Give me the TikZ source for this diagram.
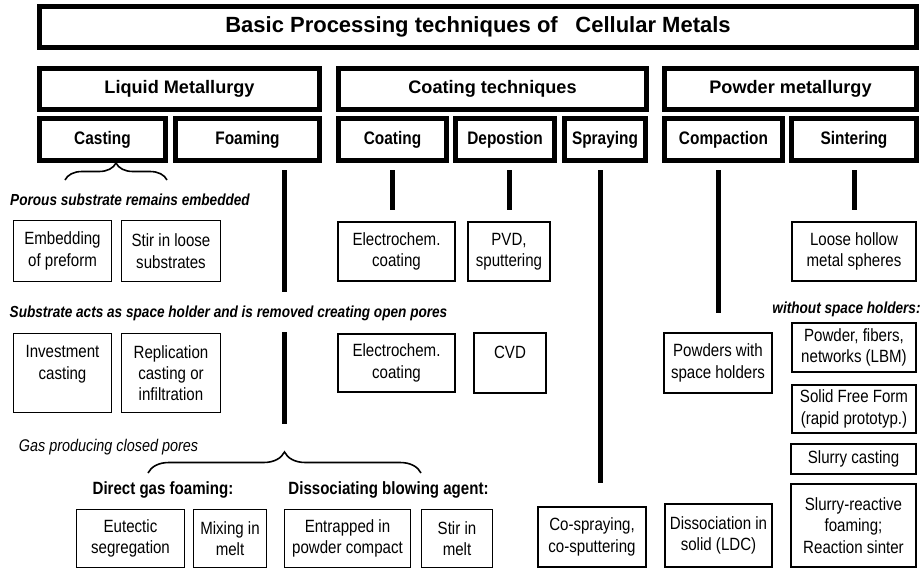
\documentclass[tikz,border=0pt]{standalone}
\usepackage{fontspec}
\setmainfont{Liberation Sans}
\newfontfamily\narrowfont{Liberation Sans}[FakeStretch=0.85]
\usetikzlibrary{positioning,calc,decorations.pathreplacing}
\tikzset{
  sz/.style 2 args={minimum width=#1*0.75pt, minimum height=#2*0.75pt},
  heavybox/.style={draw, line width=3.75pt, inner sep=0pt, align=center},
  midbox/.style={draw, line width=1.5pt, inner sep=0pt, align=center, font=\narrowfont\fontsize{13.3}{16}\selectfont},
  thinbox/.style={draw, line width=1pt, inner sep=0pt, align=center, font=\narrowfont\fontsize{13.3}{16}\selectfont},
  headA/.style={heavybox, font=\bfseries\fontsize{13.6}{16}\selectfont},
  headB/.style={heavybox, font=\narrowfont\bfseries\fontsize{13.6}{16}\selectfont},
  notetext/.style={inner sep=0pt, font=\narrowfont\bfseries\itshape\fontsize{12}{14}\selectfont},
  subhead/.style={inner sep=0pt, font=\narrowfont\bfseries\fontsize{13.3}{16}\selectfont},
  stemline/.style={line width=3.75pt},
  curly/.style={decorate, decoration={brace, amplitude=#1}, line width=1.2pt},
}
\begin{document}
\begin{tikzpicture}[x=0.75pt,y=0.75pt,yscale=-1,xscale=1]
\useasboundingbox (0,0) rectangle (922,572);

% Title
\node[heavybox, sz={877}{41}, font=\bfseries\fontsize{16.5}{20}\selectfont] (title) at (478,27) {Basic Processing techniques of\hspace{0.8em}Cellular Metals};

% Main groups
\node[headA, sz={280}{41}] (liquid) at (179.5,89) {Liquid Metallurgy};
\node[headA, sz={308}{41}] (coattech) at (492.5,89) {Coating techniques};
\node[headA, sz={252}{41}] (powder) at (790.5,89) {Powder metallurgy};

% Sub groups
\node[headB, sz={126}{42}] (cast) at (102.5,139.5) {Casting};
\node[headB, sz={144}{42}] (foam) at (247.5,139.5) {Foaming};
\node[headB, sz={108}{42}] (coat) at (392.5,139.5) {Coating};
\node[headB, sz={99}{42}] (depo) at (505,139.5) {Depostion};
\node[headB, sz={81}{42}] (spray) at (605,139.5) {Spraying};
\node[headB, sz={118}{42}] (compact) at (723.5,139.5) {Compaction};
\node[headB, sz={125}{42}] (sinter) at (854,139.5) {Sintering};

% Text Node
\node[notetext] (porous) at (130,200) {Porous substrate remains embedded};
\node[notetext] (subst) at (228.5,313) {Substrate acts as space holder and is removed creating open pores};
\node[notetext] (without) at (846.5,309) {without space holders:};
\node[notetext, font=\narrowfont\itshape\fontsize{12.7}{14}\selectfont] (gas) at (108.5,447) {Gas producing closed pores};
\node[subhead] (direct) at (163,490) {Direct gas foaming:};
\node[subhead] (dissoc) at (388.5,490) {Dissociating blowing agent:};

% Liquid metallurgy boxes
\node[thinbox, sz={98}{61}] (embed) at (62.5,251) {Embedding\\of preform};
\node[thinbox, sz={99}{61}] (stirloose) at (171,251) {Stir in loose\\substrates};
\node[thinbox, sz={98}{79}] (invest) at (62.5,373) {Investment\\casting\\\mbox{}};
\node[thinbox, sz={99}{79}] (replic) at (171,373) {Replication\\casting or\\infiltration};
\node[thinbox, sz={108}{58}] (eutectic) at (130.5,538.5) {Eutectic\\segregation};
\node[thinbox, sz={73}{58}] (mixing) at (230,538.5) {Mixing in\\melt};
\node[thinbox, sz={126}{58}] (entrap) at (347.5,538.5) {Entrapped in\\powder compact};
\node[thinbox, sz={71}{58}] (stirmelt) at (457,538.5) {Stir in\\melt};

% Coating boxes
\node[midbox, sz={117}{59}] (ec1) at (396.5,251.5) {Electrochem.\\coating};
\node[midbox, sz={117}{58}] (ec2) at (396.5,363) {Electrochem.\\coating};
\node[midbox, sz={82}{59}] (pvd) at (509,251.5) {PVD,\\sputtering};
\node[midbox, sz={72}{60}] (cvd) at (510,363) {CVD\\\mbox{}};
\node[midbox, sz={108}{60}] (cospray) at (592,537) {Co-spraying,\\co-sputtering};

% Powder boxes
\node[midbox, sz={108}{60}] (pws) at (718,363) {Powders with\\space holders};
\node[midbox, sz={107}{63}] (dissol) at (718.5,535.5) {Dissociation in\\solid (LDC)};
\node[midbox, sz={124}{59}] (loose) at (854,251.5) {Loose hollow\\metal spheres};
\node[midbox, sz={124}{49}] (pfib) at (854,347.5) {Powder, fibers,\\networks (LBM)};
\node[midbox, sz={124}{48}] (sff) at (854,409) {Solid Free Form\\(rapid prototyp.)};
\node[midbox, sz={125}{30}] (slcast) at (853.5,459) {Slurry casting};
\node[midbox, sz={125}{83}] (slreact) at (853.5,525.5) {Slurry-reactive\\foaming;\\Reaction sinter};

% Straight Lines
\coordinate (foamx) at (284,452);
\draw[stemline] ($(foam.south -| foamx)+(0,7)$) -- ($(subst.center -| foamx)-(0,21)$);
\draw[stemline] ($(subst.center -| foamx)+(0,19)$) -- ($(foamx)-(0,28)$);
\draw[stemline] ($(coat.south)+(0,7)$) -- ($(coat.south |- ec1.north)-(0,11)$);
\draw[stemline] ($(depo.south -| pvd.north)+(0,7)$) -- ($(pvd.north)-(0,11)$);
\draw[stemline] ($(spray.south)+(-5,7)$) -- ($(spray.south |- cospray.north)+(-5,-23)$);
\draw[stemline] ($(compact.south -| pws.north)+(0,7)$) -- ($(pws.north)-(0,19)$);
\draw[stemline] ($(sinter.south)+(0,7)$) -- ($(loose.north)-(0,11)$);

% Braces
\coordinate (castL) at (65,180);
\coordinate (castR) at (167,180);
\draw[curly=12.75pt] (castL) -- (castR);
\coordinate (gasL) at (148,473);
\coordinate (gasR) at (421,473);
\draw[curly=15.75pt] (gasL) -- (gasR);

\end{tikzpicture}
\end{document}
